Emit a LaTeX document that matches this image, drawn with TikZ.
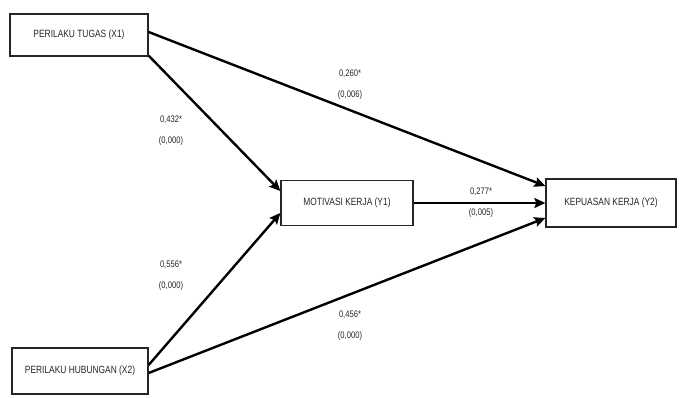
\documentclass[tikz,border=0pt]{standalone}
\usepackage{fontspec}
\newfontfamily\condfont[FakeStretch=0.8]{Liberation Sans}
\usetikzlibrary{arrows.meta,calc}
\begin{document}
\begin{tikzpicture}[x=1pt,y=-1pt,
  box/.style={draw=black!85,line width=1.3pt,fill=white,inner sep=0pt,font=\condfont\fontsize{10.5}{12}\selectfont,text=black!85},
  path/.style={line width=2.4pt,-{Stealth[length=11pt,width=10pt,inset=2pt]}},
  coef/.style={font=\condfont\fontsize{9.5}{11}\selectfont,text=black!85,align=center}]
\useasboundingbox[fill=white] (0,0) rectangle (687,398);
\node[box,minimum width=138pt,minimum height=42pt] (x1) at (79,35) {PERILAKU TUGAS (X1)};
\node[box,minimum width=136pt,minimum height=46pt] (x2) at (80,371) {PERILAKU HUBUNGAN (X2)};
\node[box,minimum width=132pt,minimum height=45pt] (y1) at (347,203) {MOTIVASI KERJA (Y1)};
\node[box,minimum width=130pt,minimum height=48pt] (y2) at (611,203) {KEPUASAN KERJA (Y2)};
\draw[path] ([yshift=3pt]x1.east) -- ([yshift=17pt]y2.west);
\draw[path] ([yshift=1pt]x1.south east) -- ([yshift=12pt]y1.west);
\draw[path] ([yshift=6pt]x2.east) -- ([yshift=-10pt]y1.west);
\draw[path] ([yshift=-2pt]x2.east) -- ([yshift=-15pt]y2.west);
\draw[path] (y1.east) -- (y2.west);
\node[coef] (c1) at (350,85) {0,260*\\[10pt](0,006)};
\node[coef] (c2) at (171,131) {0,432*\\[10pt](0,000)};
\node[coef] (c3) at (171,276) {0,556*\\[10pt](0,000)};
\node[coef] (c4) at (481,203) {0,277*\\[10pt](0,005)};
\node[coef] (c5) at (350,326) {0,456*\\[10pt](0,000)};
\end{tikzpicture}
\end{document}
